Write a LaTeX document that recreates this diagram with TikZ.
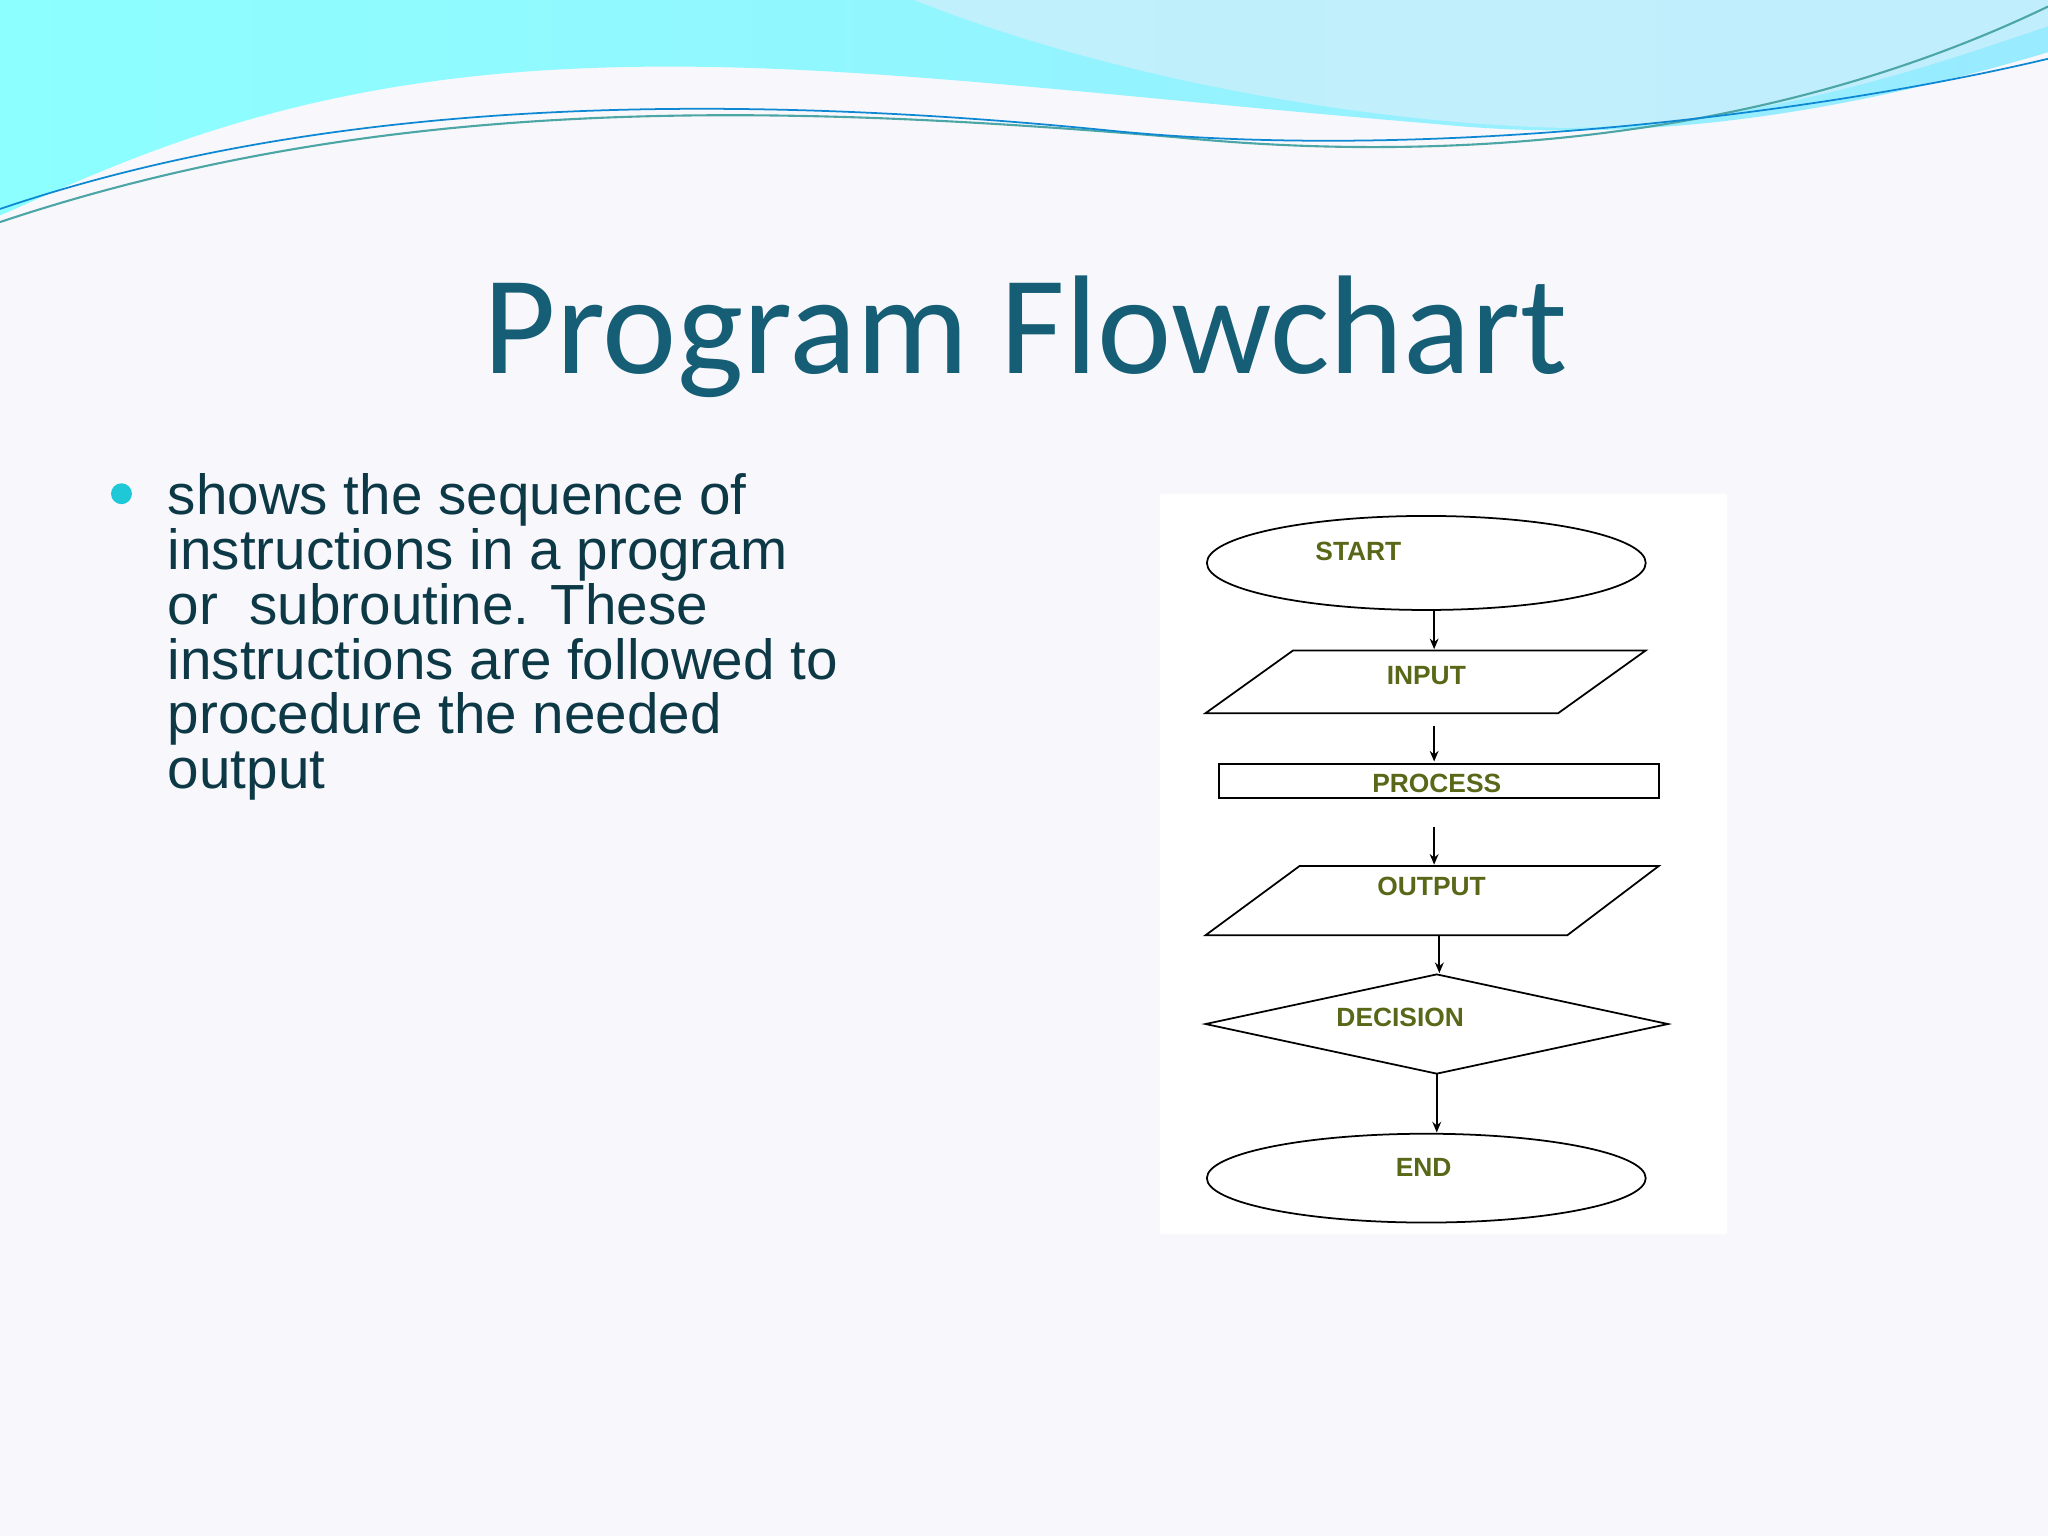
\documentclass[tikz,border=0pt]{standalone}
\usepackage{fontspec}
\usetikzlibrary{arrows.meta}
\setmainfont{Liberation Sans}
\newfontfamily\titlefont{Carlito}
\begin{document}
\begin{tikzpicture}[x=0.1306mm,y=-0.1306mm,
  lbl/.style={font=\fontsize{7.5}{8}\selectfont\bfseries, text=olivegreen},
  shp/.style={draw=black, line width=0.5pt, fill=white},
  arr/.style={-{Stealth[length=3pt,width=2.5pt]}, line width=0.5pt}]
\definecolor{olivegreen}{RGB}{88,104,24}
\definecolor{titleblue}{RGB}{22,94,117}
\definecolor{bgc}{RGB}{248,248,252}
\definecolor{bulc}{RGB}{30,200,215}
\useasboundingbox (0,0) rectangle (1568,1176);
\fill[bgc] (0,0) rectangle (1568,1176);
% waves
\shade[left color=cyan!45!white, right color=blue!20!cyan!40!white]
  (0,0) -- (1568,0) -- (1568,40) .. controls (1400,90) and (1250,110) .. (1100,95)
  .. controls (800,70) and (600,40) .. (400,55) .. controls (200,70) and (80,130) .. (0,165) -- cycle;
\fill[cyan!20!white, opacity=0.8] (700,0) .. controls (850,60) and (1050,95) .. (1200,98)
  .. controls (1350,95) and (1480,50) .. (1568,20) -- (1568,0) -- cycle;
\draw[teal!70, line width=0.6pt] (0,170) .. controls (300,70) and (600,80) .. (900,105)
  .. controls (1100,125) and (1350,110) .. (1568,5);
\draw[cyan!70!blue, line width=0.5pt] (0,160) .. controls (250,75) and (550,70) .. (850,100)
  .. controls (1100,125) and (1400,85) .. (1568,45);
% title
\node[font=\titlefont\fontsize{40}{44}\selectfont, text=titleblue] (title) at (785,258) {Program Flowchart};
% bullet
\fill[bulc] (93,378) circle (8);
\node[anchor=north west, inner sep=0pt, align=left, text=titleblue!60!black,
  font=\fontsize{16.1}{15.6}\selectfont] (body) at (128,362)
  {shows the sequence of\\instructions in a program\\or\ \ subroutine. These\\instructions are followed to\\procedure the needed\\output};
% flowchart
\fill[white] (888,378) rectangle (1322,945);
\draw[shp] (1092,431) ellipse (168 and 36);
\node[lbl] (start) at (1040,422) {START};
\draw[shp] (990,498) -- (1260,498) -- (1193,546) -- (923,546) -- cycle;
\node[lbl] (input) at (1092,517) {INPUT};
\draw[shp] (933,585) rectangle (1270,611);
\node[lbl] (process) at (1100,600) {PROCESS};
\draw[shp] (995,663) -- (1270,663) -- (1200,716) -- (923,716) -- cycle;
\node[lbl] (output) at (1096,679) {OUTPUT};
\draw[shp] (923,784) -- (1100,746) -- (1277,784) -- (1100,822) -- cycle;
\node[lbl] (decision) at (1072,779) {DECISION};
\draw[shp] (1092,902) ellipse (168 and 34);
\node[lbl] (end) at (1090,894) {END};
\coordinate (a1) at (1098,468); \coordinate (a2) at (1098,497);
\coordinate (b1) at (1098,556); \coordinate (b2) at (1098,583);
\coordinate (c1) at (1098,633); \coordinate (c2) at (1098,662);
\coordinate (d1) at (1102,716); \coordinate (d2) at (1102,745);
\coordinate (e1) at (1100,822); \coordinate (e2) at (1100,867);
\draw[arr] (a1) -- (a2);
\draw[arr] (b1) -- (b2);
\draw[arr] (c1) -- (c2);
\draw[arr] (d1) -- (d2);
\draw[arr] (e1) -- (e2);
\end{tikzpicture}
\end{document}
